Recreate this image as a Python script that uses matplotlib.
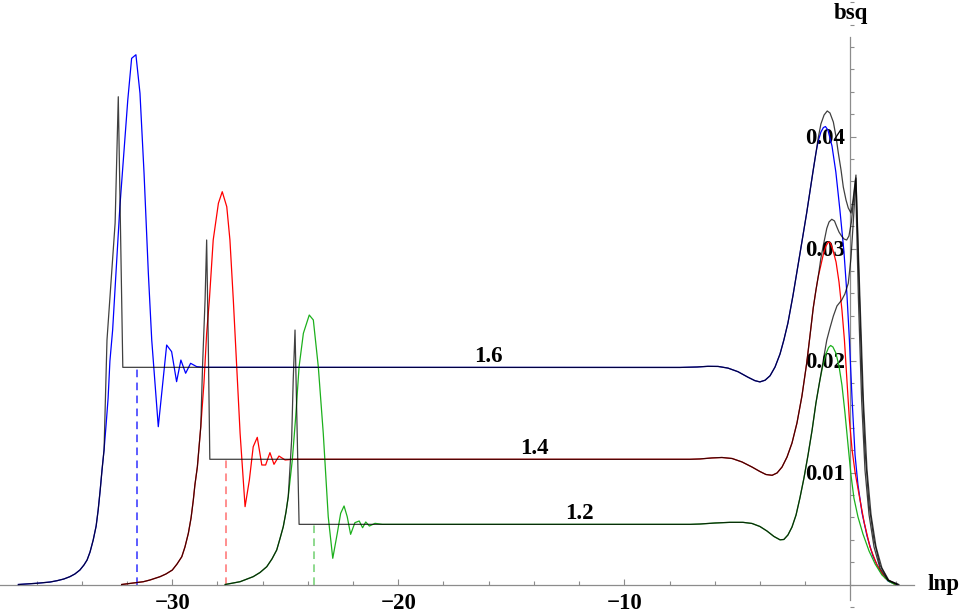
import numpy as np
import matplotlib
matplotlib.use("Agg")
import matplotlib.pyplot as plt
from matplotlib.ticker import MultipleLocator, FixedLocator

# curves: (lnp, bsq)
blue_16 = [(-36.81, 0), (-35.99, 0.00011), (-35.41, 0.00022), (-35.10, 0.00034), (-34.80, 0.00049),
           (-34.53, 0.00070), (-34.31, 0.00094), (-34.09, 0.00129), (-33.91, 0.00174), (-33.77, 0.00219),
           (-33.64, 0.00290), (-33.50, 0.00397), (-33.37, 0.00522), (-33.28, 0.00665), (-33.19, 0.00844),
           (-33.11, 0.01022), (-33.02, 0.01201), (-32.93, 0.01424), (-32.84, 0.01665), (-32.76, 0.01996),
           (-32.64, 0.02272), (-32.32, 0.03373), (-31.97, 0.04326), (-31.80, 0.04698), (-31.61, 0.04730),
           (-31.43, 0.04386), (-31.25, 0.03671), (-31.06, 0.02779), (-30.91, 0.02183), (-30.62, 0.01409),
           (-30.25, 0.02138), (-30.03, 0.02079), (-29.81, 0.01811), (-29.62, 0.02004), (-29.41, 0.01886),
           (-29.19, 0.01975), (-28.92, 0.01945), (-28.60, 0.01939), (-7.54, 0.01938), (-6.78, 0.01942),
           (-6.30, 0.01948), (-5.85, 0.01947), (-5.41, 0.01932), (-4.97, 0.01900), (-4.53, 0.01851),
           (-4.22, 0.01820), (-4.00, 0.01809), (-3.77, 0.01824), (-3.55, 0.01864), (-3.33, 0.01942),
           (-3.11, 0.02058), (-2.94, 0.02183), (-2.76, 0.02335), (-2.54, 0.02576), (-2.23, 0.02951),
           (-1.93, 0.03318), (-1.64, 0.03701), (-1.52, 0.03853), (-1.42, 0.03960), (-1.30, 0.04040),
           (-1.19, 0.04080), (-1.10, 0.04089), (-0.99, 0.04058), (-0.81, 0.03915), (-0.64, 0.03683),
           (-0.46, 0.03344), (-0.28, 0.02969), (-0.15, 0.02594), (-0.04, 0.02183), (0.08, 0.01647),
           (0.21, 0.01156), (0.34, 0.00888), (0.52, 0.00638), (0.74, 0.00433), (1.00, 0.00254),
           (1.31, 0.00121), (1.67, 0.00031), (2.02, 0)]

black_16 = [(-36.81, 0), (-35.99, 0.00011), (-35.41, 0.00022), (-35.10, 0.00034), (-34.80, 0.00049),
            (-34.53, 0.00070), (-34.31, 0.00094), (-34.09, 0.00129), (-33.91, 0.00174), (-33.77, 0.00219),
            (-33.64, 0.00290), (-33.50, 0.00397), (-33.37, 0.00522), (-33.28, 0.00665), (-33.19, 0.00844),
            (-33.11, 0.01022), (-33.02, 0.01201), (-32.89, 0.02183), (-32.53, 0.03228), (-32.39, 0.04355),
            (-32.19, 0.01939), (-7.54, 0.01938), (-6.78, 0.01942), (-6.30, 0.01948), (-5.85, 0.01947),
            (-5.41, 0.01932), (-4.97, 0.01900), (-4.53, 0.01851), (-4.22, 0.01820), (-4.00, 0.01809),
            (-3.77, 0.01824), (-3.55, 0.01864), (-3.33, 0.01942), (-3.11, 0.02058), (-2.94, 0.02183),
            (-2.76, 0.02335), (-2.54, 0.02576), (-2.23, 0.02951), (-1.93, 0.03318), (-1.64, 0.03701),
            (-1.52, 0.03853), (-1.42, 0.03987), (-1.30, 0.04112), (-1.16, 0.04192), (-1.02, 0.04228),
            (-0.90, 0.04210), (-0.75, 0.04129), (-0.63, 0.03996), (-0.53, 0.03853), (-0.41, 0.03701),
            (-0.31, 0.03549), (-0.19, 0.03433), (-0.09, 0.03362), (0.03, 0.03317), (0.12, 0.03433),
            (0.25, 0.03656), (0.38, 0.02719), (0.52, 0.01826), (0.65, 0.01201), (0.83, 0.00710),
            (1.05, 0.00397), (1.31, 0.00174), (1.67, 0.00040), (2.11, 0)]

red_14 = [(-32.24, 0), (-31.28, 0.00025), (-30.99, 0.00040), (-30.54, 0.00070), (-30.28, 0.00094),
          (-30.00, 0.00129), (-29.79, 0.00183), (-29.58, 0.00248), (-29.44, 0.00335), (-29.29, 0.00457),
          (-29.17, 0.00594), (-29.07, 0.00754), (-29.00, 0.00889), (-28.89, 0.01052), (-28.74, 0.01409),
          (-28.60, 0.01796), (-28.48, 0.02243), (-28.36, 0.02540), (-28.19, 0.03076), (-27.96, 0.03404),
          (-27.79, 0.03507), (-27.59, 0.03373), (-27.45, 0.03076), (-27.30, 0.02540), (-27.15, 0.01945),
          (-27.00, 0.01350), (-26.78, 0.00695), (-26.59, 0.00933), (-26.42, 0.01230), (-26.24, 0.01314),
          (-26.04, 0.01067), (-25.87, 0.01067), (-25.68, 0.01177), (-25.50, 0.01073), (-25.28, 0.01147),
          (-25.01, 0.01112), (-24.65, 0.01118), (-7.09, 0.01118), (-6.65, 0.01121), (-6.12, 0.01130),
          (-5.68, 0.01134), (-5.23, 0.01125), (-4.79, 0.01094), (-4.35, 0.01049), (-4.00, 0.01009),
          (-3.73, 0.00982), (-3.46, 0.00975), (-3.24, 0.00996), (-3.02, 0.01049), (-2.80, 0.01138),
          (-2.58, 0.01263), (-2.36, 0.01442), (-2.14, 0.01683), (-1.93, 0.01975), (-1.78, 0.02228),
          (-1.64, 0.02469), (-1.52, 0.02629), (-1.42, 0.02748), (-1.30, 0.02853), (-1.19, 0.02951),
          (-1.08, 0.03022), (-0.97, 0.03058), (-0.88, 0.03049), (-0.77, 0.02987), (-0.63, 0.02879),
          (-0.50, 0.02701), (-0.37, 0.02451), (-0.26, 0.02183), (-0.15, 0.01826), (-0.04, 0.01469),
          (0.08, 0.01201), (0.21, 0.01004), (0.39, 0.00799), (0.61, 0.00558), (0.87, 0.00335),
          (1.18, 0.00174), (1.54, 0.00058), (1.98, 0)]

black_14 = [(-32.24, 0), (-31.28, 0.00025), (-30.99, 0.00040), (-30.54, 0.00070), (-30.28, 0.00094),
            (-30.00, 0.00129), (-29.79, 0.00183), (-29.58, 0.00248), (-29.44, 0.00335), (-29.29, 0.00457),
            (-29.17, 0.00594), (-29.07, 0.00754), (-29.00, 0.00889), (-28.89, 0.01052), (-28.74, 0.01409),
            (-28.66, 0.01960), (-28.55, 0.02540), (-28.48, 0.03076), (-28.41, 0.02183), (-28.34, 0.01118),
            (-7.09, 0.01118), (-6.65, 0.01121), (-6.12, 0.01130), (-5.68, 0.01134), (-5.23, 0.01125),
            (-4.79, 0.01094), (-4.35, 0.01049), (-4.00, 0.01009), (-3.73, 0.00982), (-3.46, 0.00975),
            (-3.24, 0.00996), (-3.02, 0.01049), (-2.80, 0.01138), (-2.58, 0.01263), (-2.36, 0.01442),
            (-2.14, 0.01683), (-1.93, 0.01975), (-1.78, 0.02228), (-1.64, 0.02469), (-1.52, 0.02629),
            (-1.42, 0.02748), (-1.30, 0.02915), (-1.19, 0.03031), (-1.04, 0.03180), (-0.94, 0.03237),
            (-0.82, 0.03261), (-0.70, 0.03246), (-0.60, 0.03195), (-0.50, 0.03147), (-0.39, 0.03112),
            (-0.28, 0.03085), (-0.16, 0.03076), (-0.06, 0.03112), (0.05, 0.03237), (0.14, 0.03433),
            (0.23, 0.03612), (0.36, 0.02540), (0.50, 0.01647), (0.65, 0.01022), (0.83, 0.00621),
            (1.05, 0.00335), (1.31, 0.00147), (1.67, 0.00036), (2.07, 0)]

green_12 = [(-27.66, 0), (-27.00, 0.00025), (-26.42, 0.00070), (-26.12, 0.00107), (-25.82, 0.00159),
            (-25.59, 0.00228), (-25.38, 0.00308), (-25.24, 0.00406), (-25.09, 0.00516), (-24.97, 0.00646),
            (-24.87, 0.00784), (-24.69, 0.01112), (-24.54, 0.01498), (-24.39, 0.01945), (-24.20, 0.02243),
            (-23.94, 0.02406), (-23.76, 0.02362), (-23.54, 0.01945), (-23.32, 0.01350), (-23.10, 0.00605),
            (-22.90, 0.00234), (-22.70, 0.00457), (-22.55, 0.00636), (-22.40, 0.00701), (-22.26, 0.00605),
            (-22.11, 0.00448), (-21.92, 0.00552), (-21.73, 0.00567), (-21.58, 0.00507), (-21.44, 0.00558),
            (-21.28, 0.00522), (-21.03, 0.00546), (-20.70, 0.00537), (-7.09, 0.00537), (-6.65, 0.00540),
            (-5.99, 0.00549), (-5.32, 0.00555), (-4.75, 0.00555), (-4.35, 0.00545), (-4.00, 0.00518),
            (-3.69, 0.00478), (-3.38, 0.00429), (-3.11, 0.00399), (-2.94, 0.00402), (-2.76, 0.00442),
            (-2.58, 0.00513), (-2.40, 0.00621), (-2.23, 0.00772), (-2.05, 0.00951), (-1.87, 0.01156),
            (-1.69, 0.01379), (-1.52, 0.01621), (-1.36, 0.01808), (-1.21, 0.01960), (-1.08, 0.02058),
            (-0.96, 0.02116), (-0.87, 0.02134), (-0.77, 0.02121), (-0.64, 0.02067), (-0.50, 0.01951),
            (-0.37, 0.01781), (-0.24, 0.01540), (-0.10, 0.01246), (0.03, 0.00978), (0.16, 0.00772),
            (0.34, 0.00603), (0.56, 0.00451), (0.83, 0.00299), (1.10, 0.00183), (1.40, 0.00085),
            (1.71, 0.00027), (1.98, 0)]

black_12 = [(-27.66, 0), (-27.00, 0.00025), (-26.42, 0.00070), (-26.12, 0.00107), (-25.82, 0.00159),
            (-25.59, 0.00228), (-25.38, 0.00308), (-25.24, 0.00406), (-25.09, 0.00516), (-24.97, 0.00646),
            (-24.87, 0.00784), (-24.72, 0.01290), (-24.65, 0.01826), (-24.57, 0.02272), (-24.39, 0.00537),
            (-7.09, 0.00537), (-6.65, 0.00540), (-5.99, 0.00549), (-5.32, 0.00555), (-4.75, 0.00555),
            (-4.35, 0.00545), (-4.00, 0.00518), (-3.69, 0.00478), (-3.38, 0.00429), (-3.11, 0.00399),
            (-2.94, 0.00402), (-2.76, 0.00442), (-2.58, 0.00513), (-2.40, 0.00621), (-2.23, 0.00772),
            (-2.05, 0.00951), (-1.87, 0.01156), (-1.69, 0.01379), (-1.52, 0.01621), (-1.36, 0.01808),
            (-1.21, 0.01987), (-1.04, 0.02183), (-0.90, 0.02290), (-0.75, 0.02397), (-0.59, 0.02487),
            (-0.38, 0.02540), (-0.24, 0.02594), (-0.09, 0.02689), (0.03, 0.02915), (0.13, 0.03228),
            (0.25, 0.03629), (0.43, 0.02540), (0.58, 0.01647), (0.74, 0.01022), (0.92, 0.00621),
            (1.14, 0.00335), (1.40, 0.00147), (1.71, 0.00036), (2.15, 0)]

# dashed markers and curve labels
dash_x = [-31.55, -27.62, -23.73]
dash_top = [0.01939, 0.01118, 0.00537]
dash_colors = ["#3030ff", "#ff7070", "#70d070"]

curve_labels = ["1.6", "1.4", "1.2"]
label_x = [-16.02, -14.00, -11.99]
label_y = [0.02040, 0.01216, 0.00636]

ytick_vals = [0.01, 0.02, 0.03, 0.04]
xtick_vals = [-30, -20, -10]

font = {"family": "Liberation Serif", "weight": "bold", "size": 16.5}

fig = plt.figure(figsize=(9.6, 6.13), dpi=100)
ax = fig.add_axes([0, 0, 1, 1])
ax.set_xlim(-850.3 / 22.6, (960 - 850.3) / 22.6)
ax.set_ylim((584.5 - 613) / 11200, 584.5 / 11200)

for data, col in [(blue_16, "#0000ff"), (red_14, "#ff0000"), (green_12, "#1cb01c")]:
    xs, ys = np.array(data).T
    ax.plot(xs, ys, color=col, lw=0.9, zorder=3)

for data in [black_16, black_14, black_12]:
    xs, ys = np.array(data).T
    ax.plot(xs, ys, color="black", lw=0.9, alpha=0.75, zorder=4)

for x, top, col in zip(dash_x, dash_top, dash_colors):
    ax.plot([x, x], [0, top], color=col, lw=1.1, ls=(0, (5, 3.5)), zorder=2)

for t, x, y in zip(curve_labels, label_x, label_y):
    ax.text(x, y, t, ha="center", va="center", zorder=5, **font)

# Mathematica-like axes through the origin
for s in ["top", "right"]:
    ax.spines[s].set_visible(False)
ax.spines["left"].set_position(("data", 0))
ax.spines["bottom"].set_position(("data", 0))
ax.spines["left"].set_bounds(-0.0014, 0.0489)
ax.spines["bottom"].set_bounds(-37.62, 2.83)
for s in ["left", "bottom"]:
    ax.spines[s].set_color("#8c8c8c")
    ax.spines[s].set_linewidth(0.9)

ax.xaxis.set_major_locator(FixedLocator(xtick_vals))
ax.xaxis.set_minor_locator(MultipleLocator(2))
ax.yaxis.set_major_locator(FixedLocator(ytick_vals))
ax.yaxis.set_minor_locator(MultipleLocator(0.002))
ax.set_xticklabels(["\u2212" + str(abs(v)) for v in xtick_vals], **font)
ax.set_yticklabels([f"{v:.2f}" for v in ytick_vals], **font)
ax.tick_params(which="both", direction="in", color="#8c8c8c", width=0.8)
ax.tick_params(which="major", length=4.5)
ax.tick_params(which="minor", length=3)
ax.tick_params(axis="x", which="major", pad=6)
ax.tick_params(axis="y", which="major", pad=3.5)
for lab in ax.get_yticklabels():
    lab.set_zorder(6)

ax.text(0.03, 0.0510, "bsq", ha="center", va="center", **font)
ax.text(4.12, 0.0, "lnp", ha="center", va="center", **font)

fig.savefig("out.png", dpi=100)
